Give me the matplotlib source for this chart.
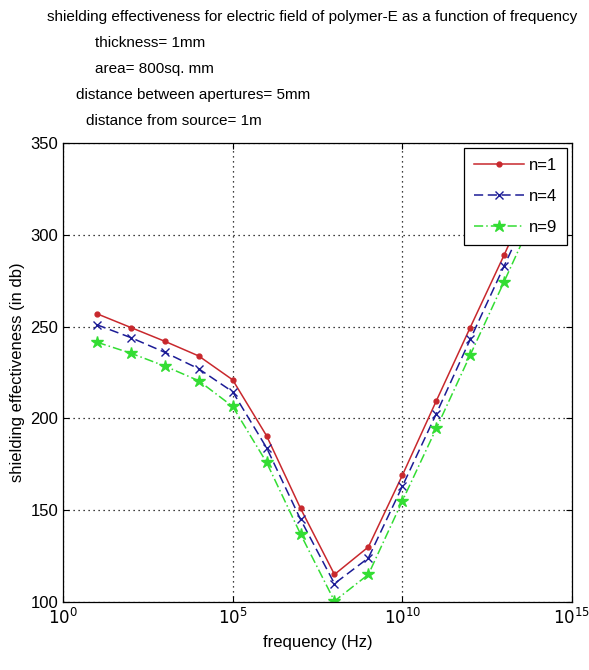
import matplotlib
matplotlib.use('Agg')
import matplotlib.pyplot as plt
from matplotlib.ticker import FixedLocator, NullLocator

plt.rcParams['font.family'] = ['Liberation Sans Narrow', 'Liberation Sans', 'DejaVu Sans']

# frequency in Hz
freq = [1e1, 1e2, 1e3, 1e4, 1e5, 1e6, 1e7, 1e8, 1e9, 1e10, 1e11, 1e12, 1e13, 1e14]
se_n1 = [257, 249.5, 242, 234, 221, 190.5, 151, 115, 130, 169, 209.5, 249.5, 289, 330]
se_n4 = [251, 244, 236, 227, 214.5, 184, 145, 110, 124, 163, 202.5, 243, 283, 323]
se_n9 = [241.5, 235.5, 228.5, 220.5, 206.5, 176, 137, 100.5, 115, 155, 194.5, 234.5, 274.5, 315]

title_lines = [
    ('shielding effectiveness for electric field of polymer-E as a function of frequency', 47),
    ('thickness= 1mm', 95),
    ('area= 800sq. mm', 95),
    ('distance between apertures= 5mm', 76),
    ('distance from source= 1m', 86),
]

fig = plt.figure(figsize=(5.89, 6.70), dpi=100)
ax = fig.add_axes([63 / 589, 68 / 670, 509 / 589, 459 / 670])

ax.plot(freq, se_n1, color='#c8282d', linestyle='-', marker='.', markersize=7,
        linewidth=1.1, label='n=1')
ax.plot(freq, se_n4, color='#1c1c96', linestyle=(0, (6, 3)), marker='x', markersize=6,
        linewidth=1.1, label='n=4')
ax.plot(freq, se_n9, color='#33dd33', linestyle=(0, (6, 2, 1, 2)), marker='*', markersize=9,
        linewidth=1.1, label='n=9')

ax.set_xscale('log')
ax.set_xlim(1e0, 1e15)
ax.set_ylim(100, 350)
ax.xaxis.set_major_locator(FixedLocator([1e0, 1e5, 1e10, 1e15]))
ax.xaxis.set_minor_locator(NullLocator())
ax.set_xticklabels([r'$10^{0}$', r'$10^{5}$', r'$10^{10}$', r'$10^{15}$'])
ax.set_yticks([100, 150, 200, 250, 300, 350])
ax.tick_params(direction='in', labelsize=12, length=4, top=True, right=True)
ax.grid(True, linestyle=(0, (1, 3)), color='black', linewidth=0.9)
for s in ax.spines.values():
    s.set_linewidth(0.9)

ax.set_xlabel('frequency (Hz)', fontsize=12, labelpad=6)
ax.set_ylabel('shielding effectiveness (in db)', fontsize=12, labelpad=4)

leg = ax.legend(loc='upper right', fontsize=12, fancybox=False, framealpha=1,
                edgecolor='black', handlelength=3.0, borderaxespad=0.3,
                labelspacing=0.95, handletextpad=0.3, borderpad=0.6)
leg.get_frame().set_linewidth(0.9)

y0 = 17
for i, (txt, xpix) in enumerate(title_lines):
    fig.text(xpix / 589, 1 - (y0 + 26 * i) / 670, txt, fontsize=11,
             ha='left', va='center')

fig.savefig('out.png', dpi=100)
